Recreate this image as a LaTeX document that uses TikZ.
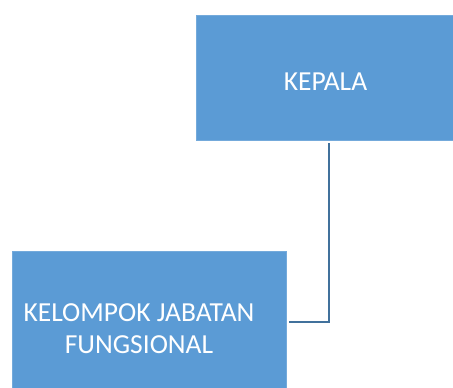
\documentclass[tikz,border=0pt]{standalone}
\usepackage{fontspec}
\setmainfont{Carlito}
\definecolor{boxblue}{HTML}{5B9BD5}
\definecolor{lineblue}{HTML}{41719C}

\begin{document}
\begin{tikzpicture}[x=1pt,y=-1pt,
    box/.style={fill=boxblue, draw=boxblue!85!white, inner sep=0pt},
    boxtext/.style={text=white, font=\fontsize{27.5}{32}\selectfont, align=center},
    link/.style={draw=lineblue, line width=2pt}]
    \useasboundingbox (0,0) rectangle (453,388);

    \node[box, minimum width=257pt, minimum height=125pt] (kepala) at (325,77.5){};
    \node[boxtext] (kepalatext) at (325.5,82){KEPALA};
    \node[box, minimum width=274pt, minimum height=137pt] (kjf) at (149,319.5){};
    \node[boxtext] (kjftext) at (139,329){KELOMPOK JABATAN\\FUNGSIONAL};

    \draw[link] ([xshift=4pt,yshift=-3pt]kepala.south) |- ([xshift=3pt,yshift=-2.5pt]kjf.east);
\end{tikzpicture}
\end{document}
